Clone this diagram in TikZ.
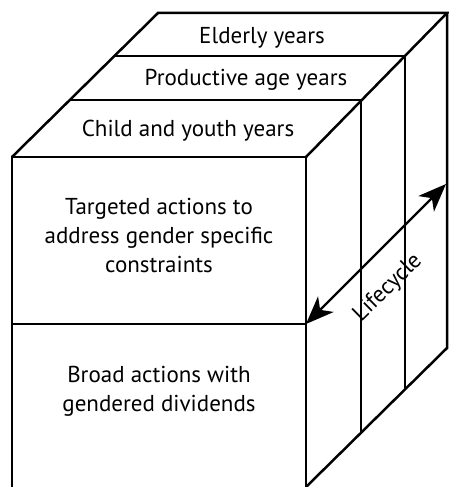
\documentclass[tikz,border=0pt]{standalone}
\usepackage{fontspec}
\setmainfont{PT Sans}
\usetikzlibrary{arrows.meta}
\tikzset{
  edge/.style={line width=2.5pt, line cap=butt, line join=miter},
  lbl/.style={font=\fontsize{23}{29}\selectfont, align=center, inner sep=0pt},
  cyc/.style={line width=2.2pt, {Stealth[length=28pt,width=22pt,inset=8pt]}-{Stealth[length=28pt,width=22pt,inset=8pt]}}
}
\begin{document}
\begin{tikzpicture}[x=1pt,y=-1pt]
\useasboundingbox (0,0) rectangle (449,487);
% corners
\coordinate (FTL) at (12,157);
\coordinate (FTR) at (306,157);
\coordinate (FML) at (12,324);
\coordinate (FMR) at (306,324);
\coordinate (FBL) at (12,487);
\coordinate (FBR) at (306,487);
\coordinate (BTL) at (158,13);
\coordinate (BTR) at (447,13);
\coordinate (D1L) at (114,56);
\coordinate (D1R) at (405,56);
\coordinate (D2L) at (70,100);
\coordinate (D2R) at (361,100);
\coordinate (D1B) at (405,389);
\coordinate (D2B) at (361,433);
\coordinate (BBR) at (447,348);
\coordinate (ArrTop) at (446,184);
% front face
\draw[edge] (FBL) -- (FTL) -- (FTR) -- (FBR);
\draw[edge] (FML) -- (FMR);
% top face
\draw[edge] (FTL) -- (BTL) -- (BTR) -- (FTR);
\draw[edge] (D1L) -- (D1R) -- (D1B);
\draw[edge] (D2L) -- (D2R) -- (D2B);
\draw[edge] (BTR) -- (BBR) -- (FBR);
% arrow
\draw[cyc] (FMR) -- (ArrTop);
% texts
\node[lbl] (eld) at (262,38) {Elderly years};
\node[lbl] (prod) at (246,80) {Productive age years};
\node[lbl] (child) at (188,131) {Child and youth years};
\node[lbl] (targ) at (159,235) {Targeted actions to\\address gender specific\\constraints};
\node[lbl] (broad) at (159,391) {Broad actions with\\gendered dividends};
\node[lbl, rotate=44.5] (life) at (388,288) {Lifecycle};
\end{tikzpicture}
\end{document}
